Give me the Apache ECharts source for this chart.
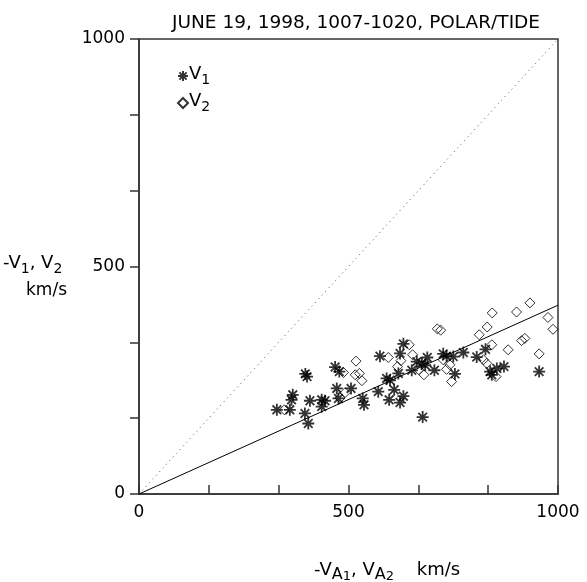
<!DOCTYPE html>
<html>
<head>
<meta charset="utf-8">
<script src="https://cdn.jsdelivr.net/npm/echarts@6/dist/echarts.min.js"></script>
<style>
  html, body { margin: 0; padding: 0; background: #fff; }
  #chart { width: 587px; height: 582px; }
</style>
</head>
<body>
<div id="chart"></div>
<script>
(function () {
	// V1 (asterisks) and V2 (diamonds) as [-VA, V] in km/s
	var v1Points = [
		[468, 279], [478, 269], [397, 264], [401, 258], [367, 218], [364, 207], [329, 185],
		[360, 185], [408, 205], [436, 207], [444, 205], [436, 192], [396, 177], [404, 155],
		[472, 232], [476, 210], [506, 232], [631, 330], [575, 303], [623, 309], [591, 254],
		[599, 250], [619, 265], [534, 210], [537, 196], [571, 225], [597, 207], [609, 229],
		[623, 201], [631, 215], [651, 272], [663, 291], [675, 287], [688, 300], [683, 283],
		[705, 272], [726, 308], [734, 303], [750, 302], [754, 264], [774, 311], [806, 301],
		[827, 318], [838, 269], [842, 262], [854, 276], [871, 280], [955, 269], [677, 169]
	];
	var v2Points = [
		[347, 185], [488, 267], [492, 223], [518, 292], [516, 262], [526, 265], [532, 249],
		[595, 300], [645, 328], [653, 306], [625, 293], [617, 280], [668, 273], [680, 262],
		[712, 363], [726, 295], [734, 274], [742, 284], [746, 247], [831, 367], [842, 328],
		[822, 295], [830, 287], [852, 258], [881, 317], [913, 337], [921, 342], [955, 308],
		[480, 211], [843, 398], [901, 400], [933, 420], [976, 388], [988, 362], [812, 350],
		[720, 360]
	];
	// fitted line and the V = VA diagonal
	var fitLine = [[0, 0], [1000, 415]];
	var diagonal = [[0, 0], [1000, 1000]];

	var axisMin = 0;
	var axisMax = 1000;
	var majorStep = 500;
	var titleText = 'JUNE 19, 1998, 1007-1020, POLAR/TIDE';

	var FONT = 'DejaVu Sans';
	var INK = '#000';
	var AXIS = '#333';
	var asterisk = 'path://M0,-5L0,5M-5,0L5,0M-3.6,-3.6L3.6,3.6M-3.6,3.6L3.6,-3.6';

	var sub = {
		n: { fontFamily: FONT, fontSize: 18, color: INK, lineHeight: 22, verticalAlign: 'top' },
		s: { fontFamily: FONT, fontSize: 14, color: INK, lineHeight: 14, verticalAlign: 'bottom', padding: [12, 0, 0, 0] },
		a: { fontFamily: FONT, fontSize: 16, color: INK, lineHeight: 16, verticalAlign: 'bottom', padding: [12, 0, 0, 0] },
		t: { fontFamily: FONT, fontSize: 13, color: INK, lineHeight: 13, verticalAlign: 'bottom', padding: [19, 0, 0, 0] }
	};

	function tickLabel(v) {
		return Math.abs(v - Math.round(v / majorStep) * majorStep) < 1e-3 ? String(Math.round(v)) : '';
	}

	function valueAxis(pos, inside) {
		return {
			type: 'value',
			position: pos,
			min: axisMin,
			max: axisMax,
			interval: majorStep,
			axisLine: { show: true, onZero: false, lineStyle: { color: AXIS, width: 1.5 } },
			axisTick: { show: true, inside: inside, length: 9, lineStyle: { color: AXIS, width: 1.5 } },
			minorTick: { show: true, splitNumber: 3, length: 9, lineStyle: { color: AXIS, width: 1.5 } },
			splitLine: { show: false },
			axisLabel: {
				fontFamily: FONT, fontSize: 17, color: INK,
				margin: pos === 'left' ? 14 : 10,
				formatter: tickLabel
			}
		};
	}

	var chart = echarts.init(document.getElementById('chart'), null, { renderer: 'canvas' });
	chart.setOption({
		backgroundColor: '#fff',
		animation: false,
		title: {
			text: titleText,
			left: 351, top: 9, textAlign: 'center',
			textStyle: { fontFamily: FONT, fontSize: 18.5, fontWeight: 'normal', color: INK }
		},
		grid: {
			left: 139, right: 29, top: 39, bottom: 88,
			show: true, borderColor: AXIS, borderWidth: 1.5, backgroundColor: 'transparent'
		},
		xAxis: valueAxis('bottom', true),
		yAxis: valueAxis('left', false),
		legend: {
			orient: 'vertical',
			left: 172, top: 56,
			itemWidth: 10, itemHeight: 10, itemGap: 1,
			data: [{ name: 'V1', icon: asterisk }, { name: 'V2', icon: 'diamond' }],
			formatter: function (name) { return '{n|V}{s|' + name.slice(1) + '}'; },
			textStyle: { rich: sub, padding: [0, 0, 0, -4] }
		},
		graphic: [
			{
				type: 'text', left: 3, top: 250,
				style: { text: '{n|-V}{s|1}{n|, V}{s|2}', rich: sub }
			},
			{
				type: 'text', left: 26, top: 282,
				style: { text: 'km/s', fontFamily: FONT, fontSize: 17, fill: INK }
			},
			{
				type: 'text', left: 314, top: 551,
				style: { text: '{n|-V}{a|A}{t|1}{n|, V}{a|A}{t|2}{n|    km/s}', rich: sub }
			}
		],
		series: [
			{
				name: 'diag', type: 'line', data: diagonal, symbol: 'none', silent: true,
				lineStyle: { color: '#555', width: 1, type: [1, 4] }
			},
			{
				name: 'fit', type: 'line', data: fitLine, symbol: 'none', silent: true,
				lineStyle: { color: INK, width: 1 }
			},
			{
				name: 'V2', type: 'scatter', data: v2Points, symbol: 'diamond', symbolSize: 10,
				itemStyle: { color: 'rgba(0,0,0,0)', borderColor: INK, borderWidth: 1 }
			},
			{
				name: 'V1', type: 'scatter', data: v1Points, symbol: asterisk, symbolSize: 12,
				itemStyle: { color: 'rgba(0,0,0,0)', borderColor: INK, borderWidth: 1.8 }
			}
		]
	});
}());
</script>
</body>
</html>
